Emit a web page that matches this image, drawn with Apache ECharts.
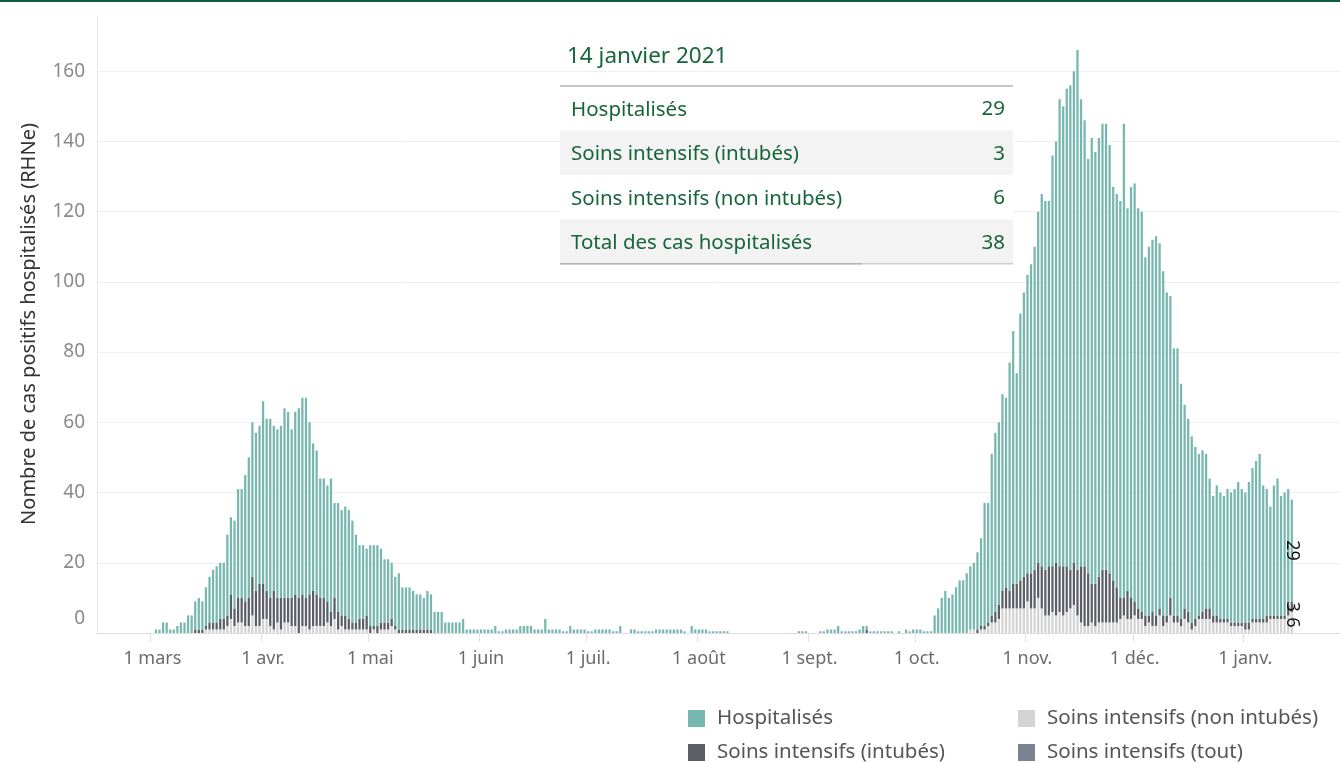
<!DOCTYPE html>
<html><head><meta charset="utf-8">
<script src="https://cdn.jsdelivr.net/npm/echarts@6/dist/echarts.min.js"></script>
<style>html,body{margin:0;padding:0;background:#fff}#c{width:1340px;height:762px}</style>
</head><body><div id="c"></div>
<script>
// ---- axis range and tick labels ----
const axisStart = '2020-02-15';
const axisEnd = '2021-01-27';
const dataStart = '2020-03-01';
const monthTickLabels = ['1 janv.','1 févr.','1 mars','1 avr.','1 mai','1 juin','1 juil.','1 août','1 sept.','1 oct.','1 nov.','1 déc.'];
const seriesNames = ['Hospitalisés','Soins intensifs (intubés)','Soins intensifs (non intubés)','Soins intensifs (tout)'];
const yAxisTitle = 'Nombre de cas positifs hospitalisés (RHNe)';

// ---- daily values from 1 March 2020 to 14 January 2021 ----
const hospitalises = [
  // mars
  0,1,1,3,3,1,1,2,3,3,5,5,8,9,8,11,13,15,16,16,16,23,22,25,31,31,36,40,44,45,45,
  // avril
  52,49,51,47,48,49,54,53,48,52,54,56,57,49,42,41,34,34,33,38,27,31,30,31,31,29,25,21,21,19,
  // mai
  23,23,23,21,18,18,16,14,16,12,12,12,11,10,10,9,11,10,6,6,6,3,3,3,3,3,4,1,1,1,1,
  // juin
  1,1,1,1,2,0.5,0.5,1,1,1,1,2,2,2,2,1,1,1,4,1,1,1,1,0.5,0.5,2,1,1,1,1,
  // juillet
  0.5,0.5,1,1,1,1,1,0.5,0.5,2,0,0,1,1,0.5,0.5,0.5,0.5,0.5,1,1,1,1,1,1,1,1,0.5,0,2,1,
  // août
  1,1,1,0.5,0.5,0.5,0.5,0.5,0.5,0,0,0,0,0,0,0,0,0,0,0,0,0,0,0,0,0,0,0,0.5,0.5,0.5,
  // septembre
  0,0,0,0.5,0.5,1,1,1,2,0.5,0.5,0.5,0.5,0.5,1,2,1,0.5,0.5,0.5,0.5,0.5,0.5,0.5,0,0.5,0,1,0.5,1,
  // octobre
  1,1,0.5,0.5,0.5,5,7,10,12,10,11,13,15,15,17,18,19,22,25,35,34,46,51,52,56,54,65,72,60,76,81,
  // novembre
  85,88,92,100,106,105,104,117,120,133,131,136,138,140,148,133,127,118,127,123,125,127,127,122,112,112,113,135,109,117,
  // décembre
  119,114,114,102,105,106,108,104,98,92,86,76,76,67,58,55,53,49,46,46,44,37,34,37,36,35,37,37,38,40,38,
  // janvier
  37,40,43,45,47,38,36,31,37,39,34,35,33,29
];
const intubes = [
  0,0,0,0,0,0,0,0,0,0,0,0,1,1,1,1,2,2,2,3,3,3,7,5,7,7,7,8,11,10,12,
  10,8,8,11,7,9,7,7,8,9,10,9,8,10,10,9,8,8,6,4,6,5,3,4,3,2,2,3,3,4,
  2,1,2,2,2,2,2,1,1,1,1,1,1,1,1,1,1,1,0,0,0,0,0,0,0,0,0,0,0,0,0,
  0,0,0,0,0,0,0,0,0,0,0,0,0,0,0,0,0,0,0,0,0,0,0,0,0,0,0,0,0,0,
  0,0,0,0,0,0,0,0,0,0,0,0,0,0,0,0,0,0,0,0,0,0,0,0,0,0,0,0,0,0,0,
  0,0,0,0,0,0,0,0,0,0,0,0,0,0,0,0,0,0,0,0,0,0,0,0,0,0,0,0,0,0,0,
  0,0,0,0,0,0,0,0,0,0,0,0,0,0,0,0,1,0,0,0,0,0,0,0,0,0,0,0,0,0,
  0,0,0,0,0,0,0,0,0,0,0,0,0,0,0,0,0,1,1,1,1,2,3,4,5,6,5,7,7,8,9,
  8,10,11,10,12,13,14,13,15,13,14,13,11,12,13,16,17,15,11,12,13,15,15,14,12,10,6,5,8,6,
  4,3,2,3,2,4,3,2,3,2,5,2,2,2,3,3,2,2,1,2,3,3,2,2,1,1,1,1,1,1,1,
  2,2,1,1,1,1,2,1,1,1,1,1,3,3
];
const nonIntubes = [
  0,0,0,0,0,0,0,0,0,0,0,0,0,0,0,1,1,1,1,1,1,2,4,2,3,3,2,2,5,2,2,
  4,4,2,1,3,1,3,3,2,2,0,2,2,1,2,2,2,2,3,2,4,1,2,1,1,1,1,1,1,1,
  0,1,0,1,1,1,2,1,0,0,0,0,0,0,0,0,0,0,0,0,0,0,0,0,0,0,0,0,0,0,0,
  0,0,0,0,0,0,0,0,0,0,0,0,0,0,0,0,0,0,0,0,0,0,0,0,0,0,0,0,0,0,
  0,0,0,0,0,0,0,0,0,0,0,0,0,0,0,0,0,0,0,0,0,0,0,0,0,0,0,0,0,0,0,
  0,0,0,0,0,0,0,0,0,0,0,0,0,0,0,0,0,0,0,0,0,0,0,0,0,0,0,0,0,0,0,
  0,0,0,0,0,0,0,0,0,0,0,0,0,0,0,0,0,0,0,0,0,0,0,0,0,0,0,0,0,0,
  0,0,0,0,0,0,0,0,0,0,0,0,0,0,0,1,1,0,1,1,2,3,3,4,7,7,7,7,7,7,7,
  9,7,7,10,7,5,5,6,5,6,5,6,7,8,5,3,2,2,3,2,3,3,3,3,3,3,4,5,4,4,
  5,4,4,2,3,2,2,5,2,3,5,3,3,2,4,3,1,2,4,4,4,4,3,3,3,3,3,2,2,2,2,
  1,1,3,3,3,3,3,4,4,4,4,4,5,6
];

// ---- tooltip panel shown for the last day ----
const tooltipDate = '14 janvier 2021';
const tooltipLabels = ['Hospitalisés','Soins intensifs (intubés)','Soins intensifs (non intubés)','Total des cas hospitalisés'];
const tooltipValues = [29, 3, 6, 38];

// ---- colours ----
const colHosp = '#76b7b0';
const colInt = '#5b5e67';
const colNon = '#d4d4d4';
const colAll = '#7b8391';
const FONT = 'Noto Sans';

function dayList(a, b) {
  const out = [];
  let d = Date.parse(a + 'T00:00:00Z');
  const e = Date.parse(b + 'T00:00:00Z');
  while (d <= e) { out.push(new Date(d).toISOString().slice(0, 10)); d += 86400000; }
  return out;
}
const cats = dayList(axisStart, axisEnd);
const offset = cats.indexOf(dataStart);

function place(arr, withLabel) {
  const out = new Array(cats.length).fill(null);
  arr.forEach((v, k) => { out[offset + k] = v; });
  if (withLabel) {
    const last = offset + arr.length - 1;
    out[last] = { value: arr[arr.length - 1], label: {
      show: true, position: 'inside', rotate: -90, color: '#111', fontSize: 18, fontFamily: FONT,
      formatter: '{c}' } };
  }
  return out;
}
const isMonthStart = (i, v) => v.slice(8) === '01';

const chart = echarts.init(document.getElementById('c'), null, { renderer: 'canvas' });

const legendCommon = {
  orient: 'horizontal', padding: 0, itemWidth: 17, itemHeight: 17, icon: 'rect',
  selectedMode: false,
  textStyle: { fontSize: 20.5, color: '#555', fontFamily: FONT, padding: [0, 0, 0, 7] }
};

const graphics = [
  { type: 'rect', shape: { x: 0, y: 0, width: 1340, height: 2 }, style: { fill: '#0d5c46' }, z: 100 },
  { type: 'text', x: 567, y: 57, style: { text: tooltipDate, fontSize: 22.5, fontFamily: FONT, fill: '#17653a', textVerticalAlign: 'middle' }, z: 100 }
];
const rowTop = 86, rowH = 44.5;
tooltipLabels.forEach((lab, k) => {
  const y = rowTop + k * rowH;
  graphics.push({ type: 'rect', shape: { x: 560, y: y, width: 453, height: rowH },
    style: { fill: k % 2 === 1 ? '#f3f3f3' : '#ffffff' }, z: 90 });
  graphics.push({ type: 'text', x: 571, y: y + rowH / 2 + 1.5, style: { text: lab, fontSize: 20.5, fontFamily: FONT, fill: '#17653a', textVerticalAlign: 'middle' }, z: 100 });
  graphics.push({ type: 'text', x: 1005, y: y + rowH / 2 + 1, style: { text: String(tooltipValues[k]), fontSize: 20.5, fontFamily: FONT, fill: '#17653a', textAlign: 'right', textVerticalAlign: 'middle' }, z: 100 });
});
graphics.push({ type: 'rect', shape: { x: 560, y: rowTop - 1, width: 453, height: 2 }, style: { fill: '#c6c6c6' }, z: 101 });
graphics.push({ type: 'rect', shape: { x: 560, y: rowTop + 4 * rowH - 1, width: 453, height: 1.5 }, style: { fill: '#d0d0d0' }, z: 101 });
graphics.push({ type: 'rect', shape: { x: 560, y: rowTop + 4 * rowH - 1, width: 302, height: 1.5 }, style: { fill: '#b4b4b4' }, z: 102 });

const option = {
  animation: false,
  backgroundColor: '#ffffff',
  grid: { left: 97, right: 0, top: 15, bottom: 129, containLabel: false },
  legend: [
    Object.assign({ data: [seriesNames[0]], left: 688, top: 708 }, legendCommon),
    Object.assign({ data: [seriesNames[2]], left: 1018, top: 708 }, legendCommon),
    Object.assign({ data: [seriesNames[1]], left: 688, top: 742 }, legendCommon),
    Object.assign({ data: [seriesNames[3]], left: 1018, top: 742 }, legendCommon)
  ],
  xAxis: {
    type: 'category', data: cats, boundaryGap: true,
    axisLine: { show: true, lineStyle: { color: '#dedede', width: 1 } },
    axisTick: { show: true, interval: isMonthStart, length: 9, lineStyle: { color: '#e2e2e2' } },
    axisLabel: { interval: isMonthStart, margin: 17, fontSize: 18, color: '#6b6b6b', fontFamily: FONT,
      formatter: v => monthTickLabels[parseInt(v.slice(5, 7), 10) - 1] },
    splitLine: { show: false }
  },
  yAxis: {
    type: 'value', min: 0, max: 176, interval: 20,
    name: yAxisTitle, nameLocation: 'middle', nameGap: 58,
    nameTextStyle: { fontSize: 20, color: '#333', fontFamily: FONT },
    axisLine: { show: true, lineStyle: { color: '#e6e6e6' } },
    axisTick: { show: false },
    axisLabel: { showMaxLabel: false, margin: 12, fontSize: 19, color: '#8a8a8a', fontFamily: FONT,
      formatter: v => v === 0 ? '{z|0}' : String(v),
      rich: { z: { fontSize: 19, color: '#8a8a8a', fontFamily: FONT, padding: [0, 0, 28, 0] } } },
    splitLine: { show: true, showMaxLine: false, lineStyle: { color: '#efefef', width: 1 } }
  },
  series: [
    { name: seriesNames[2], type: 'bar', stack: 'tot', data: place(nonIntubes, true),
      itemStyle: { color: colNon }, barWidth: '63%' },
    { name: seriesNames[1], type: 'bar', stack: 'tot', data: place(intubes, true),
      itemStyle: { color: colInt }, barWidth: '63%' },
    { name: seriesNames[0], type: 'bar', stack: 'tot', data: place(hospitalises, true),
      itemStyle: { color: colHosp }, barWidth: '63%' },
    { name: seriesNames[3], type: 'bar', stack: 'tot', data: [], itemStyle: { color: colAll }, barWidth: '63%' }
  ],
  graphic: graphics
};
chart.setOption(option);
</script>
</body></html>
